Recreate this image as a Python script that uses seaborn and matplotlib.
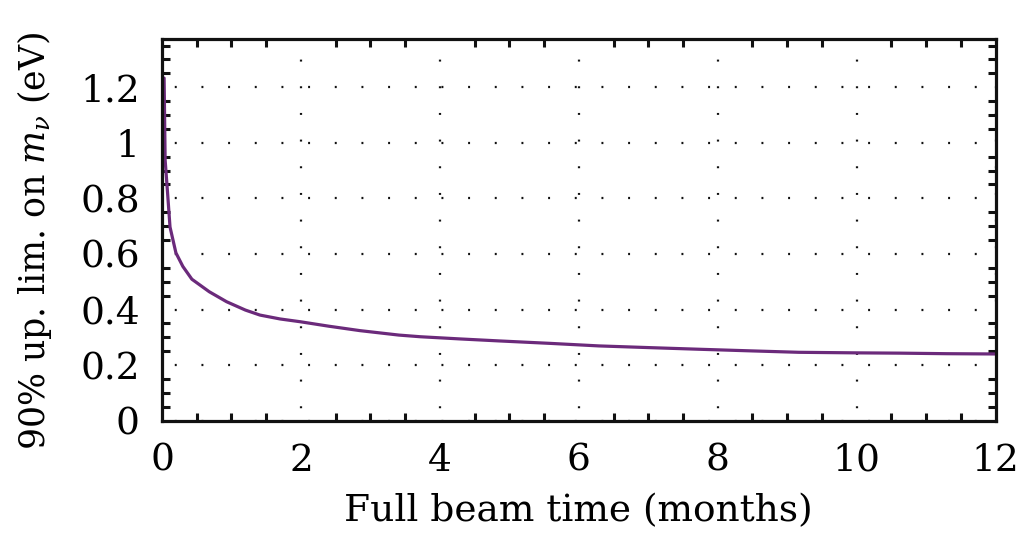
import numpy as np
import pandas as pd
import matplotlib
matplotlib.use("Agg")
import matplotlib.pyplot as plt
import seaborn as sns
from matplotlib.ticker import MultipleLocator

# values
beam_time = [0.03, 0.045, 0.08, 0.115, 0.2, 0.3, 0.43, 0.68, 0.93, 1.2, 1.41,
             1.7, 1.99, 2.4, 2.85, 3.41, 3.72, 4.3, 4.85, 5.6, 6.29, 7.0,
             7.73, 8.5, 9.17, 10.0, 10.61, 11.3, 12.0]
mass_limit = [1.233, 0.938, 0.819, 0.697, 0.604, 0.555, 0.509, 0.464, 0.428,
              0.398, 0.380, 0.366, 0.356, 0.340, 0.324, 0.308, 0.302, 0.294,
              0.287, 0.278, 0.269, 0.263, 0.257, 0.251, 0.246, 0.244, 0.243,
              0.241, 0.240]
x_ticks = [0, 2, 4, 6, 8, 10, 12]
y_ticks = [0, 0.2, 0.4, 0.6, 0.8, 1.0, 1.2]
y_ticklabels = ["0", "0.2", "0.4", "0.6", "0.8", "1", "1.2"]

df = pd.DataFrame({"time": beam_time, "limit": mass_limit})

sns.set_theme(style="ticks")
plt.rcParams["font.family"] = ["DejaVu Serif"]
plt.rcParams["mathtext.fontset"] = "dejavuserif"
plt.rcParams["lines.scale_dashes"] = False
plt.rcParams["text.color"] = "black"
plt.rcParams["axes.labelcolor"] = "black"

fig, ax = plt.subplots(figsize=(10.19, 5.4), dpi=100)
fig.subplots_adjust(left=0.159, right=0.977, top=0.928, bottom=0.221)

sns.lineplot(data=df, x="time", y="limit", ax=ax, color="#6b2a7b", linewidth=2.3)

ax.set_xlim(0, 12)
ax.set_ylim(0, 1.374)
ax.set_xticks(x_ticks)
ax.set_xticklabels([str(t) for t in x_ticks])
ax.set_yticks(y_ticks)
ax.set_yticklabels(y_ticklabels)
ax.xaxis.set_minor_locator(MultipleLocator(0.5))
ax.yaxis.set_minor_locator(MultipleLocator(0.05))

ax.tick_params(which="major", direction="in", length=0, labelsize=27, pad=16,
               top=True, right=True, colors="black")
ax.tick_params(which="minor", direction="in", length=5.5, width=2.2,
               top=True, right=True, color="#111111")

for s in ax.spines.values():
    s.set_linewidth(2.3)
    s.set_color("#111111")

ax.grid(True, which="major", color="#111111", linewidth=1.6,
        linestyle=(10, (1.4, 17.8)))

ax.set_xlabel("Full beam time (months)", fontsize=27, labelpad=10)
ax.set_ylabel(r"90% up. lim. on $m_\nu$ (eV)", fontsize=25)
ax.yaxis.set_label_coords(-0.13, 0.47)

plt.savefig("out.png", dpi=100)
